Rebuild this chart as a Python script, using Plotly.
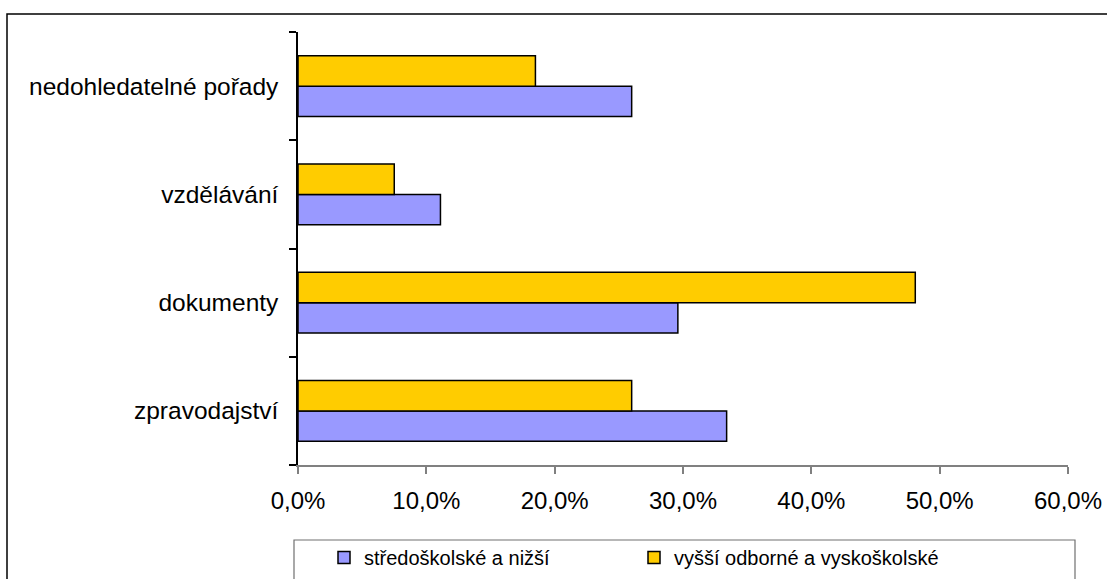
import plotly.graph_objects as go

# Programme categories (bottom to top) and shares per education group
categories = ["zpravodajství", "dokumenty", "vzdělávání", "nedohledatelné pořady"]
stredoskolske = [0.334, 0.296, 0.111, 0.260]
vysokoskolske = [0.260, 0.481, 0.075, 0.185]
series_names = ["středoškolské a nižší", "vyšší odborné a vyskoškolské"]
x_ticks = [0.0, 0.1, 0.2, 0.3, 0.4, 0.5, 0.6]

W, H = 1107, 579
L, R, T, B = 298, 39, 32, 114
pw, ph = W - L - R, H - T - B


def px_x(p):
    return (p - L) / pw


def px_y(p):
    return (H - B - p) / ph


fig = go.Figure()
fig.add_trace(go.Bar(
    y=categories, x=stredoskolske, orientation="h", name=series_names[0],
    marker=dict(color="#9999FF", line=dict(color="#000000", width=1.5)),
))
fig.add_trace(go.Bar(
    y=categories, x=vysokoskolske, orientation="h", name=series_names[1],
    marker=dict(color="#FFCC00", line=dict(color="#000000", width=1.5)),
))

font = "Liberation Sans, Arial, sans-serif"

fig.update_layout(
    width=W, height=H,
    margin=dict(l=L, r=R, t=T, b=B, pad=0, autoexpand=False),
    paper_bgcolor="white", plot_bgcolor="white",
    barmode="group", bargap=0.44, bargroupgap=0,
    separators=", ",
    font=dict(family=font, size=24, color="#000000"),
    showlegend=True,
    legend=dict(
        orientation="h", x=px_x(324), xanchor="left", y=px_y(577), yanchor="bottom",
        font=dict(size=20, family=font), bgcolor="rgba(0,0,0,0)",
        borderwidth=0, entrywidth=265, itemwidth=30, traceorder="normal",
    ),
    xaxis=dict(
        range=[0, 0.6], tickvals=x_ticks, tickformat=".1%",
        showgrid=False, zeroline=False, automargin=False,
        showline=True, linecolor="#808080", linewidth=1.5,
        ticks="outside", ticklen=7, tickcolor="#808080", tickwidth=1.5,
        ticklabelstandoff=6,
        tickfont=dict(size=24),
    ),
    yaxis=dict(
        categoryorder="array", categoryarray=categories,
        range=[-0.5, 3.5], automargin=False,
        showgrid=False, zeroline=False,
        showline=True, linecolor="#000000", linewidth=1.5,
        ticks="outside", ticklen=7, tickcolor="#000000", tickwidth=1.5,
        tickson="boundaries", ticklabelstandoff=13,
        tickfont=dict(size=24.5),
    ),
    shapes=[
        # outer chart frame
        dict(type="rect", xref="paper", yref="paper",
             x0=px_x(7), x1=px_x(1200), y0=px_y(14), y1=px_y(700),
             line=dict(color="#000000", width=1.5), fillcolor="rgba(0,0,0,0)",
             layer="below"),
        # legend frame
        dict(type="rect", xref="paper", yref="paper",
             x0=px_x(294), x1=px_x(1075), y0=px_y(540), y1=px_y(700),
             line=dict(color="#707070", width=1.2), fillcolor="rgba(0,0,0,0)",
             layer="below"),
    ],
)

fig.write_html("out.html")
